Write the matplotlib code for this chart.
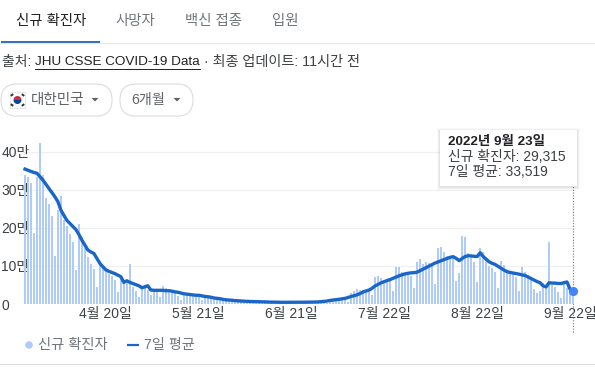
import matplotlib
matplotlib.use("Agg")
import matplotlib.pyplot as plt
import numpy as np
from matplotlib.patches import Circle, FancyBboxPatch, Polygon, Rectangle, Wedge

plt.rcParams["font.family"] = ["Liberation Sans", "Noto Sans CJK KR"]

# values in units of 만 (10,000), one per day from 3/24 to 9/23
daily_cases = [
    34.0, 33.5, 31.8, 18.6, 33.5, 42.4, 34.0, 27.8, 26.3, 23.2, 12.6, 24.7, 28.5, 22.2, 20.4, 18.4,
    16.3, 8.9, 21.0, 17.7, 14.7, 12.5, 10.5, 9.1, 4.6, 10.3, 9.4, 9.0, 8.0, 7.3, 6.3, 3.2,
    6.7, 5.9, 5.4, 10.5, 4.4, 3.5, 1.8, 4.1, 5.0, 3.7, 2.4, 3.4, 3.4, 1.9, 4.7, 4.1, 3.7, 3.2,
    2.8, 2.2, 1.1, 2.8, 2.4, 2.2, 2.1, 2.0, 1.9, 1.0, 2.4, 2.3, 2.0, 1.7, 1.6, 1.5, 0.8, 1.5,
    1.4, 1.2, 1.1, 1.0, 0.9, 0.5, 1.0, 0.95, 0.9, 0.8, 0.75, 0.7, 0.35, 0.8, 0.75, 0.7, 0.6, 0.6,
    0.55, 0.3, 0.7, 0.7, 0.6, 0.55, 0.55, 0.5, 0.3, 0.8, 0.75, 0.65, 0.6, 0.6, 0.55, 0.3, 1.2, 1.2,
    1.1, 1.0, 1.0, 0.95, 0.6, 2.8, 3.4, 3.9, 3.7, 3.6, 3.7, 3.9, 2.4, 7.2, 7.4, 6.8, 6.3, 5.9,
    6.3, 3.4, 9.8, 9.8, 8.5, 8.1, 7.6, 7.5, 4.1, 11.0, 11.8, 10.4, 11.1, 10.7, 10.3, 5.3, 14.8, 15.1,
    13.6, 12.6, 12.5, 12.3, 6.0, 8.2, 17.9, 17.7, 13.5, 12.5, 11.0, 5.7, 14.8, 13.8, 11.6, 10.0, 9.4, 8.5,
    4.1, 11.4, 10.3, 8.5, 8.1, 7.9, 7.2, 3.5, 9.8, 8.3, 7.6, 6.8, 3.9, 2.8, 3.4, 5.5, 4.1, 16.4,
    5.0, 4.6, 3.2, 1.7, 5.4, 4.1, 3.7, 2.93,
]
seven_day_avg = [
    35.5, 35.2, 34.9, 34.6, 34.4, 33.5, 32.6, 31.5, 30.4, 29.3, 28.2, 26.9, 24.7, 23.3, 22.0, 21.2,
    20.4, 19.6, 18.3, 16.8, 15.5, 14.2, 13.7, 13.3, 12.0, 10.7, 9.8, 9.0, 8.6, 8.3, 8.0, 7.6,
    7.2, 5.7, 6.1, 5.7, 5.4, 5.1, 4.8, 4.3, 4.5, 4.8, 3.7, 3.6, 3.6, 3.6, 3.6, 3.5, 3.5, 3.4,
    3.2, 3.1, 2.9, 2.7, 2.6, 2.5, 2.4, 2.3, 2.3, 2.15, 2.0, 1.9, 1.8, 1.6, 1.5, 1.4, 1.25, 1.1,
    1.05, 1.0, 0.9, 0.85, 0.8, 0.75, 0.7, 0.68, 0.65, 0.62, 0.6, 0.58, 0.55, 0.53, 0.5, 0.5, 0.48, 0.46,
    0.45, 0.45, 0.45, 0.45, 0.45, 0.46, 0.47, 0.47, 0.48, 0.49, 0.5, 0.52, 0.55, 0.62, 0.7, 0.8, 0.95, 1.05,
    1.15, 1.25, 1.38, 1.5, 1.75, 2.0, 2.2, 2.45, 2.8, 3.2, 3.45, 3.7, 4.2, 4.8, 5.2, 5.6, 5.9, 6.2,
    6.45, 6.8, 7.1, 7.45, 7.7, 7.95, 8.1, 8.2, 8.25, 8.4, 8.8, 9.2, 9.6, 10.0, 10.4, 10.8, 11.1, 11.4,
    11.7, 12.0, 12.3, 12.45, 12.0, 11.4, 12.0, 12.5, 12.7, 12.65, 12.55, 12.5, 13.5, 12.5, 11.8, 11.1, 10.7, 10.4,
    9.9, 9.4, 8.9, 8.5, 8.3, 8.15, 8.0, 7.85, 7.65, 7.5, 7.1, 6.7, 6.3, 5.9, 5.6, 4.8, 4.5, 5.6,
    5.5, 5.5, 5.4, 5.4, 5.6, 5.8, 3.9, 3.35,
]
date_ticks = [27, 58, 89, 120, 151, 182]
date_labels = ["4월 20일", "5월 21일", "6월 21일", "7월 22일", "8월 22일", "9월 22일"]
y_ticks = [0, 10, 20, 30, 40]
y_labels = ["0", "10만", "20만", "30만", "40만"]
tabs = ["신규 확진자", "사망자", "백신 접종", "입원"]
tab_x = [16, 115, 185, 272]

W, H = 595, 367
BAR = "#aecbfa"
LINE = "#1a66c8"
GREY = "#70757a"
DARK = "#3c4043"

fig = plt.figure(figsize=(W / 100, H / 100), dpi=100, facecolor="white")

# chart area, placed in pixels: 0 at y=304, 40만 at y=152, day 0 at x=25
px_per_day = 2.995
left, right = 25 - px_per_day, 573 + px_per_day
ax = fig.add_axes([left / W, (H - 304) / H, (right - left) / W, 174 / H])
days = np.arange(len(daily_cases))
ax.bar(days, daily_cases, width=0.66, color=BAR, zorder=2)
ax.plot(days, seven_day_avg, color=LINE, lw=2.4, solid_joinstyle="round", zorder=3)
ax.plot(days[-1], seven_day_avg[-1], "o", color="#4285f4", ms=6.6, mew=0, zorder=4, clip_on=False)
ax.axvline(days[-1], ymin=-0.16, ymax=118 / 174, color="#70757a", lw=0.8, ls=(0, (1, 1.5)),
           clip_on=False, zorder=1)
ax.set_xlim(-1, len(daily_cases))
ax.set_ylim(0, 174 / 3.8)
ax.set_xticks(date_ticks)
ax.set_xticklabels(date_labels, fontsize=10, color=DARK)
ax.set_yticks(y_ticks)
ax.set_yticklabels(y_labels, fontsize=10, color=DARK)
for label in ax.get_yticklabels():
    label.set_ha("left")
ax.tick_params(axis="x", length=0, pad=2)
ax.tick_params(axis="y", length=0, pad=15)
ax.grid(axis="y", color="#f0f0f0", lw=0.9)
ax.set_axisbelow(True)
for side in ax.spines:
    ax.spines[side].set_visible(False)

# page furniture in pixel coordinates
ui = fig.add_axes([0, 0, 1, 1], zorder=5)
ui.set_xlim(0, W)
ui.set_ylim(H, 0)
ui.axis("off")
ui.patch.set_alpha(0)

for i, (name, x) in enumerate(zip(tabs, tab_x)):
    ui.text(x, 21, name, fontsize=10.4, color="#202124" if i == 0 else GREY, va="center")
ui.plot([0, W], [43, 43], color="#e4e6e8", lw=0.8)
ui.add_patch(Rectangle((1, 41), 99, 2.5, color="#2f6fc4", lw=0))

ui.text(2, 62, "출처: ", fontsize=10, color=DARK, va="center")
ui.text(35, 62, "JHU CSSE COVID-19 Data", fontsize=9.7, color="#202124", va="center")
ui.plot([35, 200], [69, 69], color="#202124", lw=0.7)
ui.text(204, 62, "· 최종 업데이트: 11시간 전", fontsize=10.2, color=DARK, va="center")

for x0, x1 in [(1, 112), (120, 193)]:
    ui.add_patch(FancyBboxPatch((x0 + 16, 100), x1 - x0 - 32, 0.1,
                                boxstyle="round,pad=16,rounding_size=16", fc="white", ec="#dadce0", lw=0.8))
ui.text(31, 100, "대한민국", fontsize=10.5, color="#5f6368", va="center")
ui.text(131, 100, "6개월", fontsize=10.2, color="#5f6368", va="center")
for cx in (95, 177):
    ui.add_patch(Polygon([(cx - 3.5, 98), (cx + 3.5, 98), (cx, 101.5)], color="#5f6368", lw=0))

# flag
ui.add_patch(Rectangle((10, 92), 15, 16, fc="white", ec="#e0e0e0", lw=0.6))
ui.add_patch(Wedge((17.5, 100), 4, 180, 360, color="#cd2e3a", lw=0))
ui.add_patch(Wedge((17.5, 100), 4, 0, 180, color="#0047a0", lw=0))
for fx, fy, ang in [(12, 95, -35), (23, 95, 35), (12, 105, 35), (23, 105, -35)]:
    ui.add_patch(Rectangle((fx - 1.5, fy - 1), 3, 2, angle=ang, rotation_point="center", color="#333333", lw=0))

# tooltip, soft shadow then white card
for grow, alpha in [(3, 0.025), (2, 0.035), (1, 0.05)]:
    ui.add_patch(Rectangle((440 - grow, 130 - grow + 1), 137 + 2 * grow, 56 + 2 * grow, fc="black",
                           ec="none", alpha=alpha))
ui.add_patch(Rectangle((440, 130), 137, 56, fc="white", ec="none"))
ui.text(448, 142, "2022년 9월 23일", fontsize=9.7, color="#202124", fontweight="bold", va="center")
ui.text(448, 157, "신규 확진자: 29,315", fontsize=10, color=DARK, va="center")
ui.text(448, 172, "7일 평균: 33,519", fontsize=10, color=DARK, va="center")

# legend
ui.add_patch(Circle((29, 345), 3.8, color=BAR, lw=0))
ui.text(38, 345, "신규 확진자", fontsize=10.3, color=GREY, va="center")
ui.plot([127, 139], [345, 345], color=LINE, lw=1.6, solid_capstyle="butt")
ui.text(144, 345, "7일 평균", fontsize=10.2, color=GREY, va="center")
ui.plot([0, W], [364, 364], color="#dadce0", lw=0.8)

fig.savefig("out.png", dpi=100)
